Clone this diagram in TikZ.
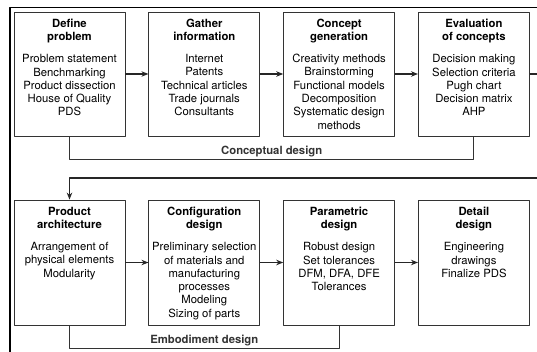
\documentclass[tikz,border=0pt]{standalone}
\usepackage{fontspec}
\setmainfont{TeX Gyre Heros}
\usetikzlibrary{positioning,arrows.meta}
\tikzset{
  blk/.style={draw=black!80, line width=.8pt, minimum width=111pt, inner sep=0pt},
  flow/.style={->, line width=1.3pt, black!85},
  link/.style={line width=.9pt, black!80},
  lbl/.style={font=\fontsize{11.3}{13.3}\selectfont\bfseries, inner sep=1.5pt}
}
% box text: title, then the list
\newcommand{\blktext}[3][110pt]{\parbox[t][#1][t]{108pt}{\centering\textbf{#2}\\[8.7pt]#3}}
\begin{document}
\begin{tikzpicture}[>={Stealth[length=7pt,width=5.5pt]}, x=1pt, y=1pt, line join=round, font=\fontsize{11.3}{13.3}\selectfont]
  \useasboundingbox (0,0) rectangle (537,351);
  % frame
  \draw[line width=1.8pt] (10,-10) -- (10,343.5) -- (560,343.5);
  % conceptual design row
  \node[blk, minimum height=124pt] (def) at (69.5,277) {\blktext{Define\\problem}{Problem statement\\Benchmarking\\Product dissection\\House of Quality\\PDS}};
  \node[blk, minimum height=124pt, right=23pt of def] (gat) {\blktext{Gather\\information}{Internet\\Patents\\Technical articles\\Trade journals\\Consultants}};
  \node[blk, minimum height=124pt, right=23pt of gat] (cog) {\blktext{Concept\\generation}{Creativity methods\\Brainstorming\\Functional models\\Decomposition\\Systematic design\\methods}};
  \node[blk, minimum height=124pt, right=23pt of cog] (evc) {\blktext{Evaluation\\of concepts}{Decision making\\Selection criteria\\Pugh chart\\Decision matrix\\AHP}};
  % embodiment design row
  \node[blk, minimum height=125pt] (pra) at (69.5,88.5) {\blktext[111pt]{Product\\architecture}{Arrangement of\\physical elements\\Modularity}};
  \node[blk, minimum height=125pt, right=23pt of pra] (cfg) {\blktext[111pt]{Configuration\\design}{Preliminary selection\\of materials and\\manufacturing\\processes\\Modeling\\Sizing of parts}};
  \node[blk, minimum height=125pt, right=23pt of cfg] (par) {\blktext[111pt]{Parametric\\design}{Robust design\\Set tolerances\\DFM, DFA, DFE\\Tolerances}};
  \node[blk, minimum height=125pt, right=23pt of par] (det) {\blktext[111pt]{Detail\\design}{Engineering\\drawings\\Finalize PDS}};
  \coordinate (fb) at (550,173);
  \draw[flow] (def) -- (gat);
  \draw[flow] (gat) -- (cog);
  \draw[flow] (cog) -- (evc);
  \draw[flow] (pra) -- (cfg);
  \draw[flow] (cfg) -- (par);
  \draw[flow] (par) -- (det);
  \draw[flow] (evc.east) -- (evc.east -| fb) -- (fb) -| (pra.north);
  \draw[link] (def.south) -- ++(0,-23) -| (evc.south) node[lbl, pos=.25, above] {Conceptual design};
  \draw[link] (pra.south) -- ++(0,-23) -| (par.south) node[lbl, pos=.25, above] {Embodiment design};
\end{tikzpicture}
\end{document}
